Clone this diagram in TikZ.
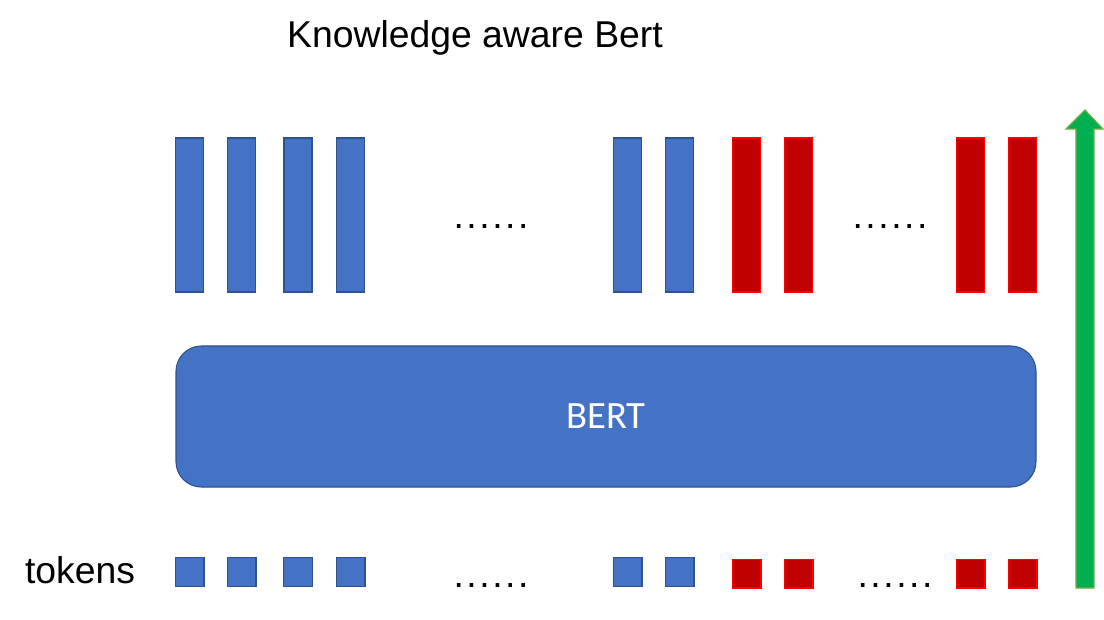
\documentclass[tikz,border=0pt]{standalone}
\usepackage{fontspec}
\setmainfont{Liberation Sans}
\newfontfamily\bertfont{Carlito}
\usetikzlibrary{positioning}

\definecolor{barblue}{HTML}{4472C4}
\definecolor{edgeblue}{HTML}{2F528F}
\definecolor{barred}{HTML}{C00000}
\definecolor{edgered}{HTML}{FF0000}
\definecolor{upgreen}{HTML}{00B050}
\definecolor{edgegreen}{HTML}{70AD47}

\newcommand{\sixdots}{.\kern1.9pt.\kern1.9pt.\kern1.9pt.\kern1.9pt.\kern1.9pt.}

\begin{document}
\begin{tikzpicture}[x=0.75pt, y=-0.75pt,
  bluebar/.style={rectangle, draw=edgeblue, fill=barblue, line width=1pt, minimum width=21pt, minimum height=115.5pt, inner sep=0pt},
  redbar/.style={rectangle, draw=edgered, fill=barred, line width=1pt, minimum width=21pt, minimum height=115.5pt, inner sep=0pt},
  bluetok/.style={rectangle, draw=edgeblue, fill=barblue, line width=1pt, minimum width=21.5pt, minimum height=22pt, inner sep=0pt},
  redtok/.style={rectangle, draw=edgered, fill=barred, line width=1pt, minimum width=21.5pt, minimum height=21.5pt, inner sep=0pt},
  bertbox/.style={rectangle, rounded corners=19pt, draw=edgeblue, fill=barblue, line width=0.8pt, minimum width=645pt, minimum height=105.75pt, text=white, font=\bertfont\fontsize{29}{34}\selectfont},
  label/.style={font=\fontsize{28}{33}\selectfont, inner sep=0pt},
  dots/.style={font=\fontsize{28}{33}\selectfont, inner sep=0pt, anchor=base}
]
\useasboundingbox (0,0) rectangle (1104,620);

\node[label] (title) at (475,38) {Knowledge aware Bert};

% output vectors
\foreach \i/\x in {1/189.5, 2/241.5, 3/298, 4/350.5, 5/627.5, 6/679.5}
  \node[bluebar] (out\i) at (\x,215) {};
\foreach \i/\x in {1/746.5, 2/798.5, 3/970.5, 4/1022.5}
  \node[redbar] (kout\i) at (\x,215) {};
\node[dots] (outdots) at (491,229) {\sixdots};
\node[dots] (koutdots) at (890,229) {\sixdots};

% encoder
\node[bertbox] (bert) at (606,416.5) {BERT};

% input tokens
\node[label] (tokens) at (80,570) {tokens};
\foreach \i/\x in {1/189.5, 2/241.5, 3/298, 4/350.5, 5/627.5, 6/679.5}
  \node[bluetok] (tok\i) at (\x,572) {};
\foreach \i/\x in {1/746.5, 2/798.5, 3/970.5, 4/1022.5}
  \node[redtok] (ktok\i) at (\x,573.5) {};
\node[dots] (tokdots) at (491,587) {\sixdots};
\node[dots] (ktokdots) at (895,587) {\sixdots};

% direction arrow
\draw[draw=edgegreen, fill=upgreen, line width=0.9pt]
  (1076,588) -- (1076,129) -- (1066,129) -- (1085,110) -- (1103,129)
  -- (1094,129) -- (1094,588) -- cycle;

\end{tikzpicture}
\end{document}
